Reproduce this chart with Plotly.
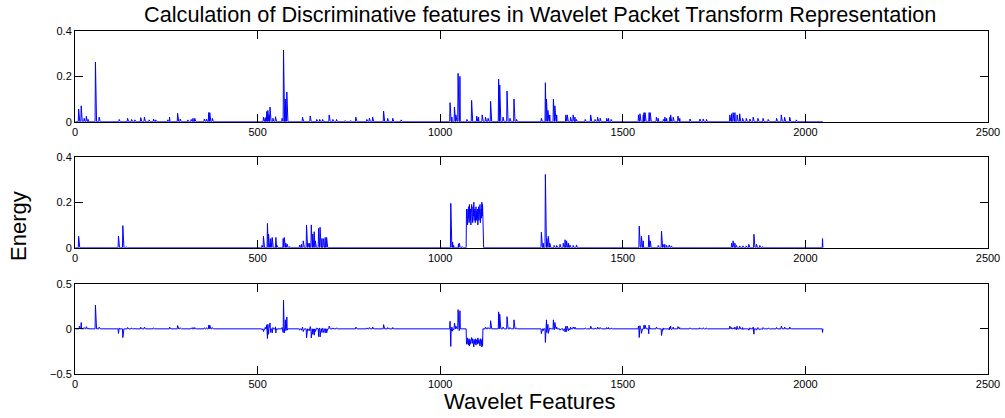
import numpy as np
import plotly.graph_objects as go

N_FEATURES = 2048

# Series 1 (top panel): sparse spikes (feature index, energy)
s1_idx = [10, 12, 17, 25, 31, 36, 56, 66, 121, 144, 155, 164, 180, 190, 203, 215, 221, 254, 259, 281,
          288, 309, 318, 323, 328, 354, 360, 366, 369, 376,
          516, 521, 525, 528, 532, 534, 542, 549, 567, 571, 576, 580, 623, 644, 662, 670, 678, 696, 706,
          716, 740, 755, 769, 799, 806, 815, 845, 856, 870, 893,
          1027, 1032, 1039, 1043, 1049, 1054, 1073, 1086, 1100, 1105, 1115, 1124, 1131, 1138, 1160, 1163,
          1172, 1183, 1191, 1202, 1209, 1277, 1288, 1291, 1295, 1300, 1310, 1314, 1319, 1344, 1348, 1357,
          1364, 1369, 1373, 1397, 1412, 1424, 1431, 1438, 1456, 1461, 1468,
          1543, 1547, 1556, 1558, 1561, 1572, 1575, 1592, 1597, 1611, 1615, 1620, 1629, 1631, 1638, 1651,
          1656, 1684, 1711, 1720, 1729, 1793, 1798, 1802, 1807, 1813, 1820, 1828, 1838, 1848, 1857, 1870,
          1884, 1898, 1921, 1934, 1943, 1957, 1975]
s1_val = [0.056, 0.03, 0.07, 0.015, 0.024, 0.01, 0.263, 0.02, 0.01, 0.015, 0.01, 0.008, 0.018, 0.02, 0.008,
          0.012, 0.008, 0.008, 0.02, 0.037,
          0.012, 0.008, 0.01, 0.015, 0.015, 0.012, 0.012, 0.04, 0.04, 0.015,
          0.02, 0.018, 0.045, 0.05, 0.03, 0.065, 0.015, 0.022, 0.015, 0.316, 0.1, 0.131, 0.02, 0.025, 0.01,
          0.01, 0.01, 0.03, 0.01,
          0.01, 0.005, 0.005, 0.02, 0.01, 0.015, 0.02, 0.047, 0.015, 0.015, 0.008,
          0.084, 0.02, 0.065, 0.03, 0.213, 0.2, 0.01, 0.094, 0.025, 0.02, 0.03, 0.02, 0.015, 0.09, 0.188,
          0.162,
          0.02, 0.135, 0.015, 0.1, 0.01, 0.015, 0.172, 0.1, 0.05, 0.03, 0.1, 0.07, 0.03, 0.03, 0.03, 0.02,
          0.03, 0.02, 0.01, 0.01, 0.03, 0.01, 0.02, 0.015, 0.015, 0.015, 0.01,
          0.03, 0.035, 0.03, 0.04, 0.04, 0.04, 0.04, 0.02, 0.015, 0.01, 0.02, 0.015, 0.02, 0.03, 0.02, 0.025,
          0.015, 0.012, 0.012, 0.012, 0.01, 0.03, 0.035, 0.04, 0.04, 0.03, 0.035, 0.015, 0.015, 0.012, 0.02,
          0.015,
          0.015, 0.01, 0.015, 0.03, 0.02, 0.02, 0.008]

# Series 2 (middle panel): sparse spikes plus one dense block
s2_idx = [10, 119, 131, 133, 140, 150, 160, 175, 512, 516, 527, 530, 536, 540, 550, 553, 570, 573, 577, 581,
          588, 615, 620, 625, 634, 638, 643, 647, 651, 655, 658, 667, 671, 676, 680, 685, 689,
          1029, 1031, 1034, 1037, 1050, 1052, 1060,
          1277, 1282, 1288, 1292, 1296, 1300, 1312, 1319, 1328, 1337, 1342, 1346, 1351, 1355, 1364, 1373,
          1545, 1551, 1556, 1571, 1575, 1597, 1606, 1610, 1615, 1620, 1627, 1633,
          1798, 1802, 1807, 1811, 1820, 1829, 1838, 1845, 1859, 1866, 1875, 1883, 2047]
s2_val = [0.05, 0.051, 0.097, 0.09, 0.004, 0.003, 0.003, 0.003, 0.01, 0.05, 0.107, 0.06, 0.04, 0.045, 0.045,
          0.01, 0.04, 0.045, 0.02, 0.015,
          0.005, 0.012, 0.015, 0.03, 0.1, 0.02, 0.02, 0.1, 0.06, 0.07, 0.03, 0.085, 0.09, 0.04, 0.04, 0.045,
          0.045,
          0.195, 0.02, 0.025, 0.01, 0.015, 0.02, 0.005,
          0.068, 0.02, 0.322, 0.04, 0.05, 0.02, 0.01, 0.01, 0.015, 0.02, 0.035, 0.03, 0.02, 0.012, 0.01, 0.012,
          0.095, 0.05, 0.03, 0.055, 0.03, 0.01, 0.073, 0.015, 0.015, 0.01, 0.012, 0.008,
          0.02, 0.03, 0.02, 0.01, 0.008, 0.008, 0.008, 0.015, 0.059, 0.015, 0.01, 0.005, 0.04]
s2_block_start = 1072
s2_block_val = [0.17, 0.12, 0.16, 0.10, 0.17, 0.13, 0.18, 0.11, 0.19, 0.14, 0.12, 0.17, 0.10, 0.15, 0.19,
                0.13, 0.16, 0.11, 0.18, 0.14, 0.20, 0.12, 0.15, 0.17, 0.11, 0.14, 0.18, 0.12, 0.16, 0.13,
                0.17, 0.10, 0.15, 0.18, 0.12, 0.16, 0.14, 0.19, 0.11, 0.15, 0.17, 0.13, 0.20, 0.14, 0.19]

x_ticks = [0, 500, 1000, 1500, 2000, 2500]
y1_ticks = [0, 0.2, 0.4]
y1_ticktext = ["0", "0.2", "0.4"]
y3_ticks = [-0.5, 0, 0.5]
y3_ticktext = ["\u22120.5", "0", "0.5"]

# Build the full series
features = np.arange(1, N_FEATURES + 1)
s1 = np.zeros(N_FEATURES)
s1[np.array(s1_idx) - 1] = s1_val
s2 = np.zeros(N_FEATURES)
s2[np.array(s2_idx) - 1] = s2_val
s2[s2_block_start - 1:s2_block_start - 1 + len(s2_block_val)] = s2_block_val
s3 = s1 - s2  # difference between the two energy profiles

FONT = "Liberation Sans, Arial, Helvetica, sans-serif"
BLUE = "#0000ff"

fig = go.Figure()
for i, s in enumerate([s1, s2, s3], start=1):
    fig.add_trace(go.Scatter(x=features, y=s, mode="lines",
                             line=dict(color=BLUE, width=1),
                             xaxis=f"x{i if i > 1 else ''}", yaxis=f"y{i if i > 1 else ''}",
                             showlegend=False, hoverinfo="skip"))

axis_common = dict(showline=True, mirror="ticks", linecolor="black", linewidth=1,
                   ticks="inside", ticklen=8, tickcolor="black", tickwidth=1,
                   showgrid=False, zeroline=False, automargin=False,
                   tickfont=dict(family=FONT, size=11, color="black"))

L, R, T, B = 75, 17, 31, 44
PH = 418 - T - B
domains = [[(374 - 121.7) / PH, 1.0], [(374 - 247.7) / PH, (374 - 156.7) / PH], [0.0, (374 - 283.7) / PH]]
layout = dict(width=1005, height=418,
              margin=dict(l=L, r=R, t=T, b=B, autoexpand=False),
              paper_bgcolor="white", plot_bgcolor="white",
              font=dict(family=FONT, color="black"))
for i in range(1, 4):
    suffix = "" if i == 1 else str(i)
    layout[f"xaxis{suffix}"] = dict(range=[0, 2500], tickvals=x_ticks, domain=[0, 1],
                                    anchor=f"y{suffix}", **axis_common)
    if i < 3:
        layout[f"yaxis{suffix}"] = dict(range=[0, 0.4], tickvals=y1_ticks, ticktext=y1_ticktext,
                                        domain=domains[i - 1], anchor=f"x{suffix}", **axis_common)
    else:
        layout[f"yaxis{suffix}"] = dict(range=[-0.5, 0.5], tickvals=y3_ticks, ticktext=y3_ticktext,
                                        domain=domains[i - 1], anchor=f"x{suffix}", **axis_common)
fig.update_layout(**layout)

PW = 1005 - L - R
fig.add_annotation(text="Calculation of Discriminative features in Wavelet Packet Transform Representation",
                   x=(540 - L) / PW, y=(374 - 15) / PH, xref="paper", yref="paper", showarrow=False,
                   xanchor="center", yanchor="middle", font=dict(family=FONT, size=21.7, color="black"))
fig.add_annotation(text="Energy", x=(18 - L) / PW, y=(374 - 226) / PH, xref="paper", yref="paper",
                   showarrow=False, textangle=-90, xanchor="center", yanchor="middle",
                   font=dict(family=FONT, size=22, color="black"))
fig.add_annotation(text="Wavelet Features", x=(530 - L) / PW, y=(374 - 401) / PH, xref="paper", yref="paper",
                   showarrow=False, xanchor="center", yanchor="middle",
                   font=dict(family=FONT, size=22, color="black"))

fig.write_html("out.html", config={"displayModeBar": False},
               post_script="document.body.style.margin='0';document.body.style.overflow='hidden';")
